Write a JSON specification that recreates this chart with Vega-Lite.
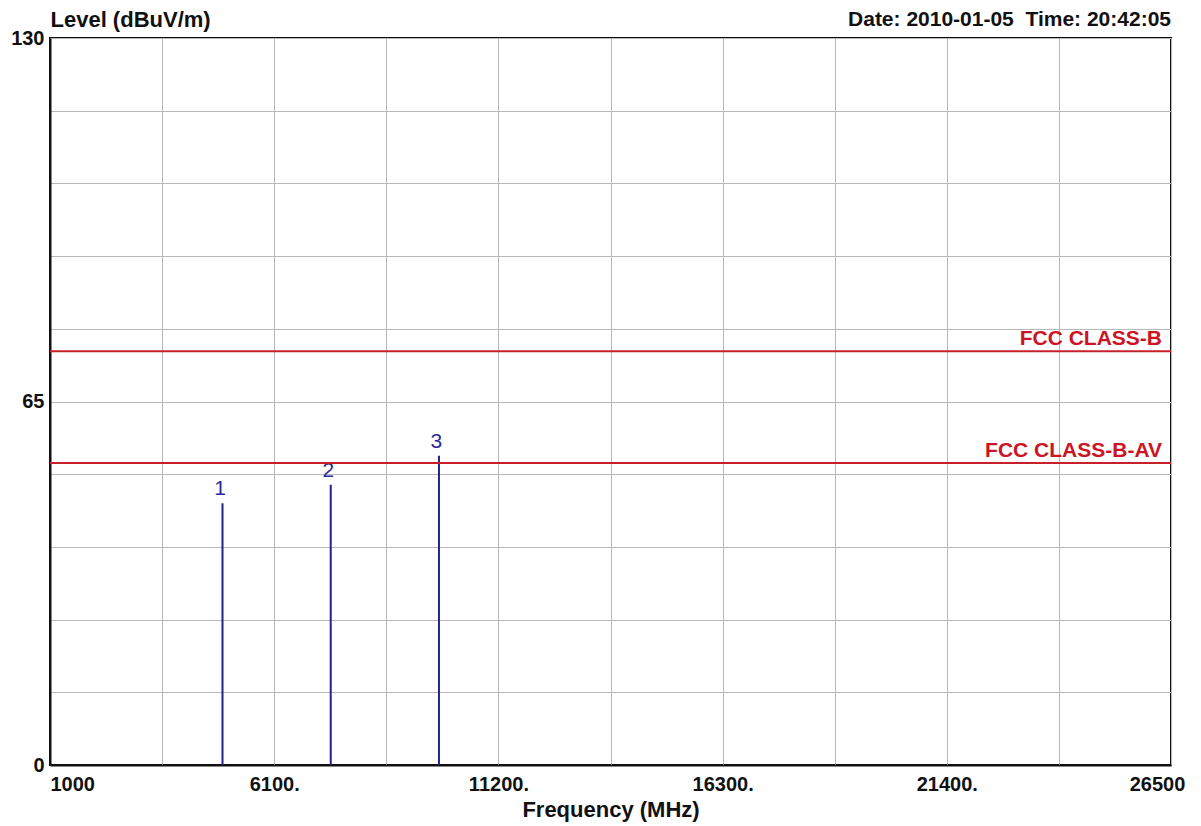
{
  "$schema": "https://vega.github.io/schema/vega-lite/v6.json",
  "width": 1121,
  "height": 727,
  "autosize": {"type": "none"},
  "padding": {"left": 50, "top": 38, "right": 30, "bottom": 61},
  "background": "white",
  "config": {
    "view": {"stroke": "#111111", "strokeWidth": 2},
    "font": "Liberation Sans"
  },
  "title": {
    "text": "Date: 2010-01-05\u00a0 Time: 20:42:05",
    "anchor": "end",
    "frame": "group",
    "orient": "top",
    "font": "Liberation Sans",
    "fontSize": 21,
    "fontWeight": "bold",
    "color": "#111111",
    "baseline": "alphabetic",
    "offset": -39
  },
  "datasets": {
    "spikes": [
      {"marker": "1", "freq": 4924, "level": 46.8},
      {"marker": "2", "freq": 7386, "level": 50.1},
      {"marker": "3", "freq": 9848, "level": 55.3}
    ],
    "limits": [
      {"name": "FCC CLASS-B", "level": 74, "freq": 26500},
      {"name": "FCC CLASS-B-AV", "level": 54, "freq": 26500}
    ]
  },
  "layer": [
    {
      "data": {"name": "spikes"},
      "mark": {"type": "rule", "color": "#22228e", "strokeWidth": 2},
      "encoding": {
        "x": {
          "field": "freq",
          "type": "quantitative",
          "scale": {"domain": [1000, 26500], "nice": false, "zero": false},
          "axis": {
            "values": [1000, 3550, 6100, 8650, 11200, 13750, 16300, 18850, 21400, 23950, 26500],
            "labelExpr": "datum.value==1000 ? '1000' : datum.value==26500 ? '26500' : (datum.value==6100||datum.value==11200||datum.value==16300||datum.value==21400) ? format(datum.value, 'd') + '.' : ''",
            "labelAlign": {"expr": "datum.value==1000 ? 'left' : 'center'"},
            "labelOffset": {"expr": "datum.value==26500 ? -14 : 0"},
            "labelFont": "Liberation Sans",
            "labelFontSize": 20,
            "labelFontWeight": "bold",
            "labelColor": "#111111",
            "labelPadding": 9,
            "labelBaseline": "top",
            "labelFlush": false,
            "labelOverlap": false,
            "tickSize": 0,
            "domain": true,
            "domainColor": "#111111",
            "domainWidth": 2,
            "grid": true,
            "gridColor": "#b8b8b8",
            "gridWidth": 1,
            "title": "Frequency (MHz)",
            "titleFont": "Liberation Sans",
            "titleFontSize": 22,
            "titleFontWeight": "bold",
            "titleColor": "#111111",
            "titlePadding": 5
          }
        },
        "y": {
          "field": "level",
          "type": "quantitative",
          "scale": {"domain": [0, 130], "nice": false, "zero": false},
          "axis": {
            "values": [0, 13, 26, 39, 52, 65, 78, 91, 104, 117, 130],
            "labelExpr": "datum.value==0||datum.value==65||datum.value==130 ? datum.label : ''",
            "labelFont": "Liberation Sans",
            "labelFontSize": 20,
            "labelFontWeight": "bold",
            "labelColor": "#111111",
            "labelPadding": 6,
            "labelBaseline": "middle",
            "tickSize": 0,
            "domain": true,
            "domainColor": "#111111",
            "domainWidth": 2,
            "grid": true,
            "gridColor": "#b8b8b8",
            "gridWidth": 1,
            "title": "Level (dBuV/m)",
            "titleAngle": 0,
            "titleX": 0,
            "titleY": -12,
            "titleAlign": "left",
            "titleBaseline": "alphabetic",
            "titleFont": "Liberation Sans",
            "titleFontSize": 22,
            "titleFontWeight": "bold",
            "titleColor": "#111111"
          }
        },
        "y2": {"datum": 0}
      }
    },
    {
      "data": {"name": "spikes"},
      "mark": {"type": "text", "align": "center", "baseline": "alphabetic", "dx": -2.5, "dy": -8, "font": "Liberation Sans", "fontSize": 21, "color": "#2a2a9a"},
      "encoding": {
        "x": {"field": "freq", "type": "quantitative"},
        "y": {"field": "level", "type": "quantitative"},
        "text": {"field": "marker"}
      }
    },
    {
      "data": {"name": "limits"},
      "mark": {"type": "rule", "color": "#c8202a", "strokeWidth": 2},
      "encoding": {
        "y": {"field": "level", "type": "quantitative"}
      }
    },
    {
      "data": {"name": "limits"},
      "mark": {"type": "text", "align": "right", "baseline": "alphabetic", "dx": -9, "dy": -6, "font": "Liberation Sans", "fontSize": 21, "fontWeight": "bold", "color": "#cc1424"},
      "encoding": {
        "x": {"field": "freq", "type": "quantitative"},
        "y": {"field": "level", "type": "quantitative"},
        "text": {"field": "name"}
      }
    }
  ]
}
